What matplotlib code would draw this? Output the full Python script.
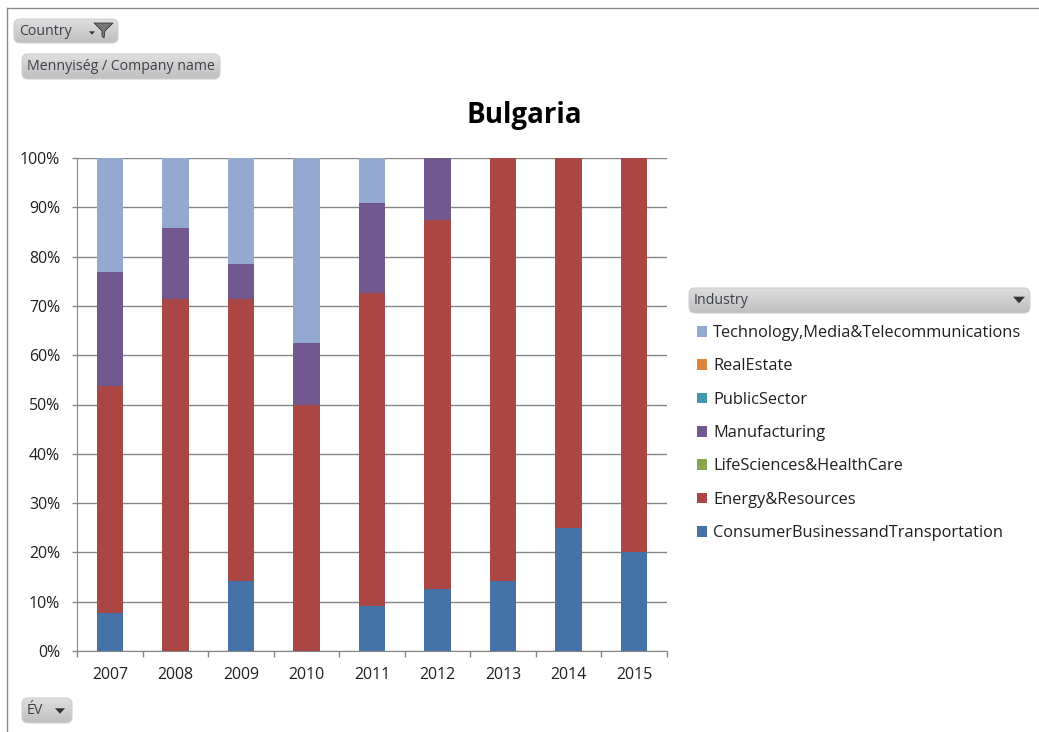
import numpy as np
import matplotlib
matplotlib.use("Agg")
import matplotlib.pyplot as plt
from matplotlib.patches import FancyBboxPatch, Polygon
from matplotlib.ticker import PercentFormatter

W, H = 1039, 732

years = ["2007", "2008", "2009", "2010", "2011", "2012", "2013", "2014", "2015"]

# shares in percent, bottom series first
consumer = [7.7, 0, 14.3, 0, 9.1, 12.5, 14.3, 25, 20]
energy = [46.15, 71.4, 57.1, 50, 63.6, 75, 85.7, 75, 80]
life_sciences = [0, 0, 0, 0, 0, 0, 0, 0, 0]
manufacturing = [23.05, 14.3, 7.1, 12.5, 18.2, 12.5, 0, 0, 0]
public_sector = [0, 0, 0, 0, 0, 0, 0, 0, 0]
real_estate = [0, 0, 0, 0, 0, 0, 0, 0, 0]
technology = [23.1, 14.3, 21.5, 37.5, 9.1, 0, 0, 0, 0]

series = [
    ("ConsumerBusinessandTransportation", consumer, "#4572A7"),
    ("Energy&Resources", energy, "#AA4643"),
    ("LifeSciences&HealthCare", life_sciences, "#89A54E"),
    ("Manufacturing", manufacturing, "#71588F"),
    ("PublicSector", public_sector, "#4198AF"),
    ("RealEstate", real_estate, "#DB843D"),
    ("Technology,Media&Telecommunications", technology, "#93A9CF"),
]

plt.rcParams["font.family"] = ["Open Sans", "DejaVu Sans"]
TEXT = "#1f1f1f"


def button(bg, x, y, w, h, label, size=10.2):
    # pivot chart field button, pixel coords from top left
    img = bg.imshow(np.linspace(0.87, 0.75, 32).reshape(-1, 1), cmap="gray", vmin=0, vmax=1,
                    extent=(x, x + w, y + h, y), aspect="auto", zorder=2)
    box = FancyBboxPatch((x + 6, y + 6), w - 12, h - 12, boxstyle="round,pad=6",
                         fc="none", ec="#d0d0d0", lw=0.8, zorder=3)
    bg.add_patch(box)
    img.set_clip_path(box)
    bg.text(x + 5, y + h / 2 + 0.5, label, fontsize=size, color="#3c4048", va="center", ha="left", zorder=4)


fig = plt.figure(figsize=(W / 100, H / 100), dpi=100)

bg = fig.add_axes([0, 0, 1, 1])
bg.set_xlim(0, W)
bg.set_ylim(H, 0)
bg.axis("off")

# outer frame of the screenshot
bg.plot([7, 7], [H, 8], color="#8a8a8a", lw=1)
bg.plot([7, W], [8, 8], color="#8a8a8a", lw=1)

button(bg, 14, 19, 104, 24, "Country")
button(bg, 22, 54, 198, 25, "Mennyiség / Company name")
button(bg, 22, 698, 50, 25, "ÉV")
button(bg, 689, 288, 341, 25, "Industry")

# dropdown arrows and the filter funnel
for cx, cy, r in [(1019, 300, 6), (60, 711, 5), (92, 33, 3)]:
    bg.add_patch(Polygon([(cx - r, cy - r * 0.55), (cx + r, cy - r * 0.55), (cx, cy + r * 0.55)],
                         fc="#333333", ec="none", zorder=5))
bg.add_patch(Polygon([(94, 23), (113, 23), (105, 31), (104, 38), (102, 36), (102, 31)],
                     fc="#777777", ec="#222222", lw=0.5, zorder=5))

left, right, top, bottom = 77, 667, 158, 651
ax = fig.add_axes([left / W, 1 - bottom / H, (right - left) / W, (bottom - top) / H])
ax.patch.set_alpha(0)

x = np.arange(len(years))
base = np.zeros(len(years))
for name, vals, color in series:
    ax.bar(x, vals, bottom=base, width=0.405, color=color, label=name, zorder=3)
    base += np.array(vals)

ax.set_xlim(-0.5, len(years) - 0.5)
ax.set_ylim(0, 100)
ax.set_yticks(np.arange(0, 101, 10))
ax.yaxis.set_major_formatter(PercentFormatter(decimals=0))
ax.set_xticks(x)
ax.set_xticklabels(years)
ax.set_xticks(np.arange(-0.5, len(years)), minor=True)
ax.grid(axis="y", color="#868686", lw=1, zorder=1)
ax.tick_params(axis="y", length=3.6, width=1, color="#868686", labelsize=11.4, labelcolor=TEXT, pad=8.5)
ax.tick_params(axis="x", which="major", length=0, labelsize=11.4, labelcolor=TEXT, pad=11.5)
ax.tick_params(axis="x", which="minor", length=4, width=1, color="#868686")
for side in ["top", "right"]:
    ax.spines[side].set_visible(False)
for side in ["left", "bottom"]:
    ax.spines[side].set_color("#868686")

fig.text(524 / W, 1 - 115 / H, "Bulgaria", fontsize=20, fontweight="bold", color="black",
         ha="center", va="center")

handles, labels = ax.get_legend_handles_labels()
ax.legend(handles[::-1], labels[::-1], loc="upper left", bbox_to_anchor=(697 / W, 1 - 325 / H),
          bbox_transform=fig.transFigure, frameon=False, fontsize=11.8, labelcolor=TEXT,
          handlelength=0.62, handleheight=0.62, handletextpad=0.36, labelspacing=1.06,
          borderpad=0, borderaxespad=0)

fig.savefig("out.png", dpi=100)
